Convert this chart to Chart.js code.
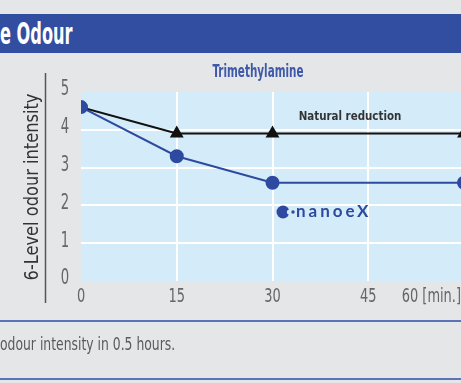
<!DOCTYPE html>
<html>
<head>
<meta charset="utf-8">
<script src="https://cdn.jsdelivr.net/npm/chart.js@4.4.1/dist/chart.umd.min.js"></script>
<style>
  html, body { margin:0; padding:0; width:461px; height:383px; overflow:hidden; background:#e5e6e8; }
  #wrap { position:relative; width:461px; height:383px; overflow:hidden; }
  #head { position:absolute; left:0; top:14px; width:461px; height:39px; background:#314ea0; }
  #head span { position:absolute; left:0; top:1px; color:#fff; font:bold 31px "DejaVu Sans Condensed", "DejaVu Sans", sans-serif;
               white-space:nowrap; transform:scaleX(0.58); transform-origin:0 50%; }
  #chart { position:absolute; left:0; top:0; }
  .rule { position:absolute; left:0; width:461px; height:2px; background:#5b74b9; }
  #note { position:absolute; left:0; top:334px; color:#5a5a5a; font:17px "DejaVu Sans Condensed", "DejaVu Sans", sans-serif;
          white-space:nowrap; transform:scaleX(0.81); transform-origin:0 50%; }
</style>
</head>
<body>
<div id="wrap">
  <div id="head"><span>e Odour</span></div>
  <canvas id="chart" width="500" height="383"></canvas>
  <div class="rule" style="top:320px"></div>
  <div id="note">odour intensity in 0.5 hours.</div>
  <div class="rule" style="top:378px"></div>
</div>
<script>
// measurement times and 6-level odour readings
const minutes = [0, 15, 30, 60];
const naturalLevel = [4.6, 3.9, 3.9, 3.9];
const nanoeLevel = [4.6, 3.3, 2.6, 2.6];
const xTicks = [0, 15, 30, 45, 60];
const xTickLabels = ["0", "15", "30", "45", "60 [min.]"];
const yMax = 5;

const narrow = '"DejaVu Sans Condensed", "DejaVu Sans", sans-serif';

// horizontally squeezed text, the chart uses a condensed face
function squeeze(ctx, text, x, y, font, color, sx, align){
  ctx.save();
  ctx.font = font;
  ctx.fillStyle = color;
  ctx.textBaseline = "middle";
  ctx.textAlign = "left";
  const w = ctx.measureText(text).width * sx;
  let left = x;
  if(align === "center") left = x - w/2;
  if(align === "right") left = x - w;
  ctx.translate(left, y);
  ctx.scale(sx, 1);
  ctx.fillText(text, 0, 0);
  ctx.restore();
}

const plotBg = {
  id: "plotBg",
  beforeDraw(chart){
    const {ctx, chartArea:a} = chart;
    ctx.save();
    ctx.fillStyle = "#d4ecf9";
    ctx.fillRect(a.left, a.top, a.right - a.left, a.bottom - a.top);
    ctx.restore();
  }
};

const extras = {
  id: "extras",
  afterDraw(chart){
    const {ctx, scales:{x, y}} = chart;

    // y tick labels
    for(let v = 0; v <= yMax; v++){
      squeeze(ctx, String(v), 65, y.getPixelForValue(v) - 2, "21px " + narrow, "#666", 0.7, "center");
    }
    // x tick labels, the last one is pulled back inside the frame
    xTicks.forEach((v, i) => {
      const px = x.getPixelForValue(v);
      if(i === xTicks.length - 1){
        squeeze(ctx, xTickLabels[i], 461, 297, "20px " + narrow, "#666", 0.72, "right");
      } else {
        squeeze(ctx, xTickLabels[i], px, 297, "20px " + narrow, "#666", 0.72, "center");
      }
    });

    // axis title and the rule beside it
    ctx.save();
    ctx.translate(33, 187);
    ctx.rotate(-Math.PI/2);
    squeeze(ctx, "6-Level odour intensity", 0, 0, "19px " + narrow, "#333", 0.95, "center");
    ctx.restore();
    ctx.save();
    ctx.strokeStyle = "#555";
    ctx.lineWidth = 1.5;
    ctx.beginPath();
    ctx.moveTo(45.5, 73);
    ctx.lineTo(45.5, 303);
    ctx.stroke();
    ctx.restore();

    squeeze(ctx, "Trimethylamine", 258, 73, "bold 17px " + narrow, "#3e58aa", 0.68, "center");
    squeeze(ctx, "Natural reduction", 350, 117, "bold 13px " + narrow, "#333", 0.88, "center");

    // nanoeX mark
    const cx = 283, cy = 212;
    ctx.save();
    ctx.fillStyle = "#2e4aa0";
    ctx.beginPath();
    ctx.arc(cx, cy, 6.5, 0, Math.PI*2);
    ctx.fill();
    ctx.fillStyle = "#d4ecf9";
    ctx.beginPath();
    ctx.arc(cx + 6.5, cy, 2.6, 0, Math.PI*2);
    ctx.fill();
    ctx.fillStyle = "#2e4aa0";
    ctx.beginPath();
    ctx.arc(cx + 10, cy, 1.7, 0, Math.PI*2);
    ctx.fill();
    ctx.font = "bold 17px Lato, sans-serif";
    ctx.letterSpacing = "3px";
    ctx.textBaseline = "alphabetic";
    ctx.fillText("nanoe", 296, cy + 4.5);
    ctx.letterSpacing = "0px";
    ctx.font = "bold 17px Lato, sans-serif";
    ctx.fillText("X", 357, cy + 5);
    ctx.restore();
  }
};

new Chart(document.getElementById("chart"), {
  type: "line",
  data: {
    datasets: [
      {
        label: "nanoeX",
        data: minutes.map((m, i) => ({x: m, y: nanoeLevel[i]})),
        borderColor: "#2e4aa0",
        backgroundColor: "#2e4aa0",
        borderWidth: 2,
        pointRadius: 6,
        pointStyle: "circle",
        order: 0
      },
      {
        label: "Natural reduction",
        data: minutes.map((m, i) => ({x: m, y: naturalLevel[i]})),
        borderColor: "#111",
        backgroundColor: "#111",
        borderWidth: 2,
        pointRadius: [0, 6, 6, 6],
        pointStyle: "triangle",
        order: 1
      }
    ]
  },
  options: {
    responsive: false,
    animation: false,
    devicePixelRatio: 1,
    layout: { padding: { top: 92, right: 36, left: 0, bottom: 0 } },
    plugins: { legend: { display: false }, tooltip: { enabled: false } },
    scales: {
      x: {
        type: "linear",
        min: 0,
        max: 60,
        afterBuildTicks: s => { s.ticks = xTicks.map(v => ({value: v})); },
        afterFit: s => { s.height = 102; },
        ticks: { display: false },
        border: { display: false },
        grid: { color: c => c.tick && c.tick.value === 0 ? "rgba(0,0,0,0)" : "#fff", lineWidth: 2, drawTicks: false }
      },
      y: {
        min: 0,
        max: yMax,
        afterFit: s => { s.width = 81; },
        ticks: { display: false, stepSize: 1 },
        border: { display: false },
        grid: { color: c => c.tick && (c.tick.value === 0 || c.tick.value === yMax) ? "rgba(0,0,0,0)" : "#fff", lineWidth: 2, drawTicks: false }
      }
    }
  },
  plugins: [plotBg, extras]
});
</script>
</body>
</html>
